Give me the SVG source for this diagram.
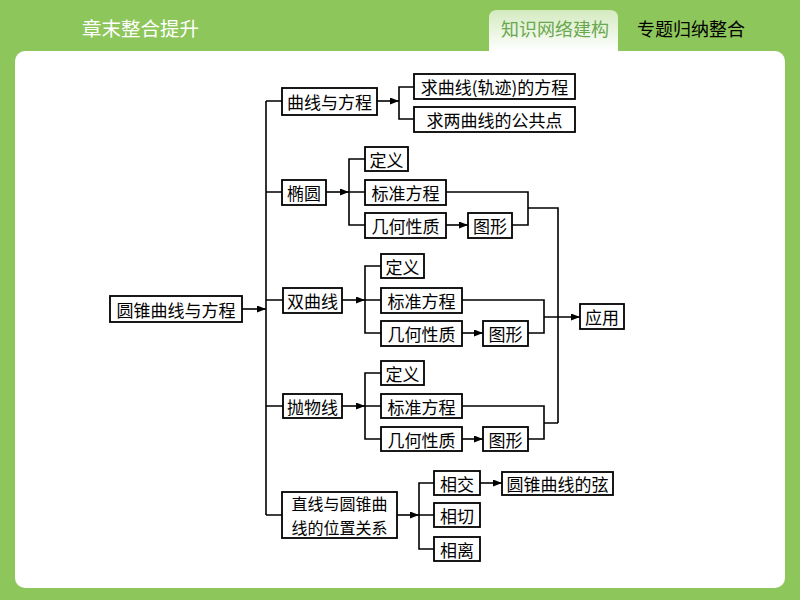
<svg xmlns="http://www.w3.org/2000/svg" width="800" height="600" viewBox="0 0 800 600">
<defs>
<linearGradient id="tabg" x1="0" y1="0" x2="0" y2="1">
<stop offset="0" stop-color="#d3eabf"/>
<stop offset="1" stop-color="#ffffff"/>
</linearGradient>
<marker id="arr" markerUnits="userSpaceOnUse" markerWidth="10" markerHeight="8" refX="9" refY="3.5" orient="auto">
<path d="M0,0 L9,3.5 L0,7 z" fill="#000"/>
</marker>
<style>
.bx{fill:#fff;stroke:#000;stroke-width:1.8}
.t{font-family:"Noto Sans CJK SC","Noto Sans CJK JP",sans-serif;font-size:17px;fill:#000;text-anchor:middle;dominant-baseline:central}
.t2{font-size:16px}
.ln{fill:none;stroke:#000;stroke-width:1.6}
.ar{fill:none;stroke:#000;stroke-width:1.6;marker-end:url(#arr)}
.hd{font-family:"Noto Sans CJK SC",sans-serif;font-size:18px;dominant-baseline:central}
</style>
</defs>
<rect x="0" y="0" width="800" height="600" fill="#8dc65a"/>
<rect x="15" y="51" width="770" height="537" rx="10" fill="#fff"/>
<path d="M489,51 V18 Q489,10 497,10 H610 Q618,10 618,18 V51 Z" fill="url(#tabg)"/>
<text class="hd" x="82" y="27" fill="#fff" style="font-size:19.5px">章末整合提升</text>
<text class="hd" x="501" y="28" fill="#6aa84f">知识网络建构</text>
<text class="hd" x="637" y="28" fill="#000">专题归纳整合</text>

<g id="connectors">
<path class="ar" d="M242,309 H266"/>
<path class="ln" d="M266,101 V515"/>
<path class="ln" d="M266,101 H282 M266,192 H282 M266,300 H283 M266,406 H283 M266,515 H282"/>
<path class="ar" d="M377,101 H399"/>
<path class="ln" d="M414,87 H399 V119 H414"/>
<path class="ar" d="M326,192 H349"/>
<path class="ln" d="M366,159 H349 V225 H366 M349,192 H366"/>
<path class="ar" d="M446,225 H468"/>
<path class="ln" d="M446,192 H528 V225 H512 M528,208 H558 V423"/>
<path class="ar" d="M342,300 H365"/>
<path class="ln" d="M381,266 H365 V333 H381 M365,300 H381"/>
<path class="ar" d="M462,333 H483"/>
<path class="ln" d="M462,300 H544 V333 H528"/>
<path class="ar" d="M544,317 H580"/>
<path class="ar" d="M342,406 H365"/>
<path class="ln" d="M381,373 H365 V439 H381 M365,406 H381"/>
<path class="ar" d="M462,439 H483"/>
<path class="ln" d="M462,406 H544 V439 H528 M544,423 H558"/>
<path class="ar" d="M397,515 H419"/>
<path class="ln" d="M434,483 H419 V549 H434 M419,515 H434"/>
<path class="ar" d="M480,483 H502"/>
</g>

<g id="root"><rect class="bx" x="110" y="296" width="132" height="26"/><text class="t" x="176" y="309">圆锥曲线与方程</text></g>
<g id="curve"><rect class="bx" x="282" y="88" width="95" height="27"/><text class="t" x="329.5" y="101.5">曲线与方程</text></g>
<g id="curve-eq"><rect class="bx" x="414" y="74" width="161" height="25"/><text class="t" x="494.5" y="86.5">求曲线(轨迹)的方程</text></g>
<g id="curve-common"><rect class="bx" x="414" y="107" width="161" height="25"/><text class="t" x="494.5" y="119.5">求两曲线的公共点</text></g>

<g id="ellipse"><rect class="bx" x="282" y="180" width="44" height="25"/><text class="t" x="304" y="192.5">椭圆</text></g>
<g id="e-def"><rect class="bx" x="365" y="147" width="43" height="24"/><text class="t" x="386.5" y="159">定义</text></g>
<g id="e-std"><rect class="bx" x="365" y="180" width="81" height="25"/><text class="t" x="405.5" y="192.5">标准方程</text></g>
<g id="e-geo"><rect class="bx" x="365" y="213" width="81" height="25"/><text class="t" x="405.5" y="225.5">几何性质</text></g>
<g id="e-fig"><rect class="bx" x="468" y="213" width="44" height="25"/><text class="t" x="490" y="225.5">图形</text></g>

<g id="hyperbola"><rect class="bx" x="283" y="288" width="59" height="25"/><text class="t" x="312.5" y="300.5">双曲线</text></g>
<g id="h-def"><rect class="bx" x="381" y="254" width="43" height="24"/><text class="t" x="402.5" y="266">定义</text></g>
<g id="h-std"><rect class="bx" x="381" y="288" width="81" height="25"/><text class="t" x="421.5" y="300.5">标准方程</text></g>
<g id="h-geo"><rect class="bx" x="381" y="321" width="81" height="25"/><text class="t" x="421.5" y="333.5">几何性质</text></g>
<g id="h-fig"><rect class="bx" x="483" y="321" width="45" height="25"/><text class="t" x="505.5" y="333.5">图形</text></g>

<g id="apply"><rect class="bx" x="580" y="304" width="44" height="25"/><text class="t" x="602" y="316.5">应用</text></g>

<g id="parabola"><rect class="bx" x="283" y="394" width="59" height="24"/><text class="t" x="312.5" y="406">抛物线</text></g>
<g id="p-def"><rect class="bx" x="381" y="361" width="43" height="24"/><text class="t" x="402.5" y="373">定义</text></g>
<g id="p-std"><rect class="bx" x="381" y="394" width="81" height="24"/><text class="t" x="421.5" y="406">标准方程</text></g>
<g id="p-geo"><rect class="bx" x="381" y="427" width="81" height="24"/><text class="t" x="421.5" y="439">几何性质</text></g>
<g id="p-fig"><rect class="bx" x="483" y="427" width="45" height="24"/><text class="t" x="505.5" y="439">图形</text></g>

<g id="line-rel"><rect class="bx" x="282" y="492" width="115" height="46"/><text class="t t2" x="339.5" y="503">直线与圆锥曲</text><text class="t t2" x="339.5" y="527">线的位置关系</text></g>
<g id="intersect"><rect class="bx" x="434" y="471" width="46" height="24"/><text class="t" x="457" y="483">相交</text></g>
<g id="tangent"><rect class="bx" x="434" y="503" width="46" height="24"/><text class="t" x="457" y="515">相切</text></g>
<g id="separate"><rect class="bx" x="434" y="537" width="46" height="24"/><text class="t" x="457" y="549">相离</text></g>
<g id="chord"><rect class="bx" x="502" y="472" width="111" height="23"/><text class="t" x="557.5" y="483.5">圆锥曲线的弦</text></g>
</svg>
